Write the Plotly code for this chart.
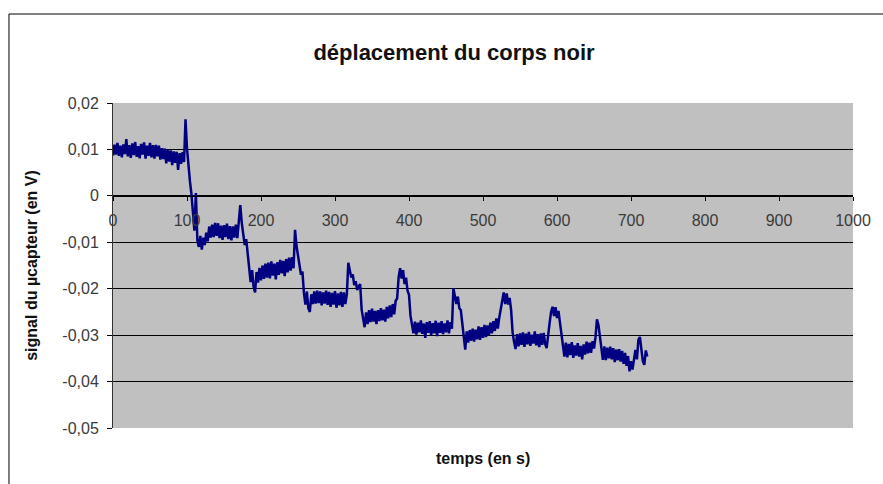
import plotly.graph_objects as go

# Black-body displacement run: sensor output (V) sampled every 2 s, one list per stage
SAMPLE_PERIOD_S = 2

stage_start = [0.0087, 0.0110, 0.0089, 0.0114, 0.0086, 0.0108, 0.0083, 0.0111, 0.0090, 0.0122,
               0.0085, 0.0109, 0.0082, 0.0113, 0.0088, 0.0116, 0.0084, 0.0107, 0.0081, 0.0112,
               0.0089, 0.0115, 0.0080, 0.0108, 0.0086, 0.0114, 0.0083, 0.0109, 0.0080, 0.0110,
               0.0085, 0.0108, 0.0078, 0.0103, 0.0079, 0.0102, 0.0070, 0.0099, 0.0074, 0.0098,
               0.0066, 0.0096, 0.0071, 0.0095, 0.0056, 0.0092, 0.0069, 0.0094, 0.0073]
stage_1 = [0.0165, 0.0102, 0.0058, 0.0031, 0.0004, -0.0028, -0.0075, 0.0006, -0.0096, -0.0110,
           -0.0086, -0.0116, -0.0090, -0.0106, -0.0079, -0.0098, -0.0066, -0.0090, -0.0062, -0.0089,
           -0.0058, -0.0086, -0.0059, -0.0091, -0.0064, -0.0095, -0.0063, -0.0089, -0.0060, -0.0093,
           -0.0065, -0.0096, -0.0066, -0.0090, -0.0062, -0.0091, -0.0054, -0.0020, -0.0058, -0.0084,
           -0.0106, -0.0093, -0.0128]
stage_2 = [-0.0160, -0.0186, -0.0160, -0.0196, -0.0208, -0.0164, -0.0187, -0.0155, -0.0182, -0.0150,
           -0.0179, -0.0146, -0.0176, -0.0144, -0.0178, -0.0141, -0.0172, -0.0146, -0.0180, -0.0143,
           -0.0170, -0.0138, -0.0167, -0.0140, -0.0173, -0.0136, -0.0165, -0.0133, -0.0161, -0.0132,
           -0.0156, -0.0073, -0.0108, -0.0125, -0.0149, -0.0170, -0.0163]
stage_3 = [-0.0209, -0.0234, -0.0206, -0.0242, -0.0250, -0.0212, -0.0233, -0.0206, -0.0232, -0.0204,
           -0.0231, -0.0206, -0.0236, -0.0208, -0.0232, -0.0204, -0.0235, -0.0207, -0.0239, -0.0209,
           -0.0234, -0.0205, -0.0241, -0.0210, -0.0236, -0.0207, -0.0239, -0.0208, -0.0233, -0.0212,
           -0.0144, -0.0158, -0.0176, -0.0169, -0.0192, -0.0184, -0.0203, -0.0195, -0.0190, -0.0245]
stage_4 = [-0.0268, -0.0283, -0.0251, -0.0276, -0.0246, -0.0272, -0.0243, -0.0271, -0.0248, -0.0276,
           -0.0246, -0.0270, -0.0242, -0.0268, -0.0245, -0.0271, -0.0239, -0.0264, -0.0236, -0.0261,
           -0.0233, -0.0255, -0.0226, -0.0221,
           -0.0175, -0.0156, -0.0178, -0.0160, -0.0190, -0.0176, -0.0204, -0.0213, -0.0258]
stage_5 = [-0.0274, -0.0296, -0.0271, -0.0299, -0.0273, -0.0294, -0.0268, -0.0297, -0.0275, -0.0306,
           -0.0272, -0.0295, -0.0270, -0.0300, -0.0274, -0.0296, -0.0269, -0.0302, -0.0273, -0.0295,
           -0.0270, -0.0298, -0.0275, -0.0294, -0.0268, -0.0296, -0.0272, -0.0286,
           -0.0199, -0.0218, -0.0233, -0.0217, -0.0242, -0.0246, -0.0275]
stage_6 = [-0.0306, -0.0331, -0.0292, -0.0316, -0.0289, -0.0312, -0.0286, -0.0314, -0.0288, -0.0309,
           -0.0281, -0.0310, -0.0283, -0.0306, -0.0278, -0.0304, -0.0279, -0.0300, -0.0273, -0.0296,
           -0.0270, -0.0291, -0.0264, -0.0286, -0.0262, -0.0246,
           -0.0224, -0.0208, -0.0233, -0.0210, -0.0234, -0.0220, -0.0246, -0.0294]
stage_7 = [-0.0315, -0.0330, -0.0298, -0.0324, -0.0296, -0.0321, -0.0294, -0.0325, -0.0297, -0.0320,
           -0.0293, -0.0323, -0.0299, -0.0318, -0.0292, -0.0322, -0.0298, -0.0326, -0.0296, -0.0321,
           -0.0295, -0.0319, -0.0328, -0.0294,
           -0.0274, -0.0250, -0.0239, -0.0259, -0.0240, -0.0263, -0.0248, -0.0273, -0.0298]
stage_8 = [-0.0320, -0.0346, -0.0316, -0.0348, -0.0319, -0.0343, -0.0315, -0.0349, -0.0322, -0.0344,
           -0.0317, -0.0346, -0.0323, -0.0352, -0.0320, -0.0342, -0.0314, -0.0339, -0.0316, -0.0338,
           -0.0313, -0.0329, -0.0305,
           -0.0266, -0.0278, -0.0309, -0.0328, -0.0353, -0.0324, -0.0354, -0.0327, -0.0350, -0.0325,
           -0.0352, -0.0328, -0.0358, -0.0331, -0.0354, -0.0330, -0.0357, -0.0334, -0.0362, -0.0338,
           -0.0366, -0.0345, -0.0378, -0.0356, -0.0374, -0.0346, -0.0332, -0.0352, -0.0310, -0.0304,
           -0.0334, -0.0356, -0.0364, -0.0333, -0.0346]

signal_v = (stage_start + stage_1 + stage_2 + stage_3 + stage_4
            + stage_5 + stage_6 + stage_7 + stage_8)
time_s = [i * SAMPLE_PERIOD_S for i in range(len(signal_v))]

x_ticks = [0, 100, 200, 300, 400, 500, 600, 700, 800, 900, 1000]
y_ticks = [0.02, 0.01, 0, -0.01, -0.02, -0.03, -0.04, -0.05]
y_tick_labels = ["0,02", "0,01", "0", "-0,01", "-0,02", "-0,03", "-0,04", "-0,05"]

X_RANGE = [0, 1000]
Y_RANGE = [-0.05, 0.02]

FONT = "Liberation Sans, Arial, sans-serif"
TICK_FONT = dict(family=FONT, size=16, color="#3a3a3a")

ML, MR, MT, MB = 113, 23, 103, 56
PLOT_W = 883 - ML - MR
PLOT_H = 484 - MT - MB

fig = go.Figure(
    go.Scatter(
        x=time_s,
        y=signal_v,
        mode="lines",
        line=dict(color="#000080", width=2.5),
        hoverinfo="skip",
    )
)

# horizontal axis drawn across the plot at y = 0
zero_pos = (0 - Y_RANGE[0]) / (Y_RANGE[1] - Y_RANGE[0])

fig.update_layout(
    width=883,
    height=484,
    margin=dict(l=ML, r=MR, t=MT, b=MB),
    paper_bgcolor="white",
    plot_bgcolor="#c0c0c0",
    showlegend=False,
    font=dict(family=FONT, color="#222222"),
    title=dict(
        text="<b>déplacement du corps noir</b>",
        font=dict(family=FONT, size=22, color="#111111"),
        x=454 / 883,
        xref="container",
        xanchor="center",
        y=1 - 52 / 484,
        yref="container",
        yanchor="middle",
    ),
    xaxis=dict(
        range=X_RANGE,
        tickvals=x_ticks,
        ticktext=[str(v) for v in x_ticks],
        showgrid=False,
        zeroline=False,
        showline=True,
        linecolor="black",
        linewidth=1,
        ticks="outside",
        ticklen=4,
        tickcolor="black",
        tickfont=TICK_FONT,
        ticklabelstandoff=6,
        ticklabeloverflow="allow",
        anchor="free",
        position=zero_pos,
        fixedrange=True,
    ),
    yaxis=dict(
        range=Y_RANGE,
        tickvals=y_ticks,
        ticktext=y_tick_labels,
        showgrid=True,
        gridcolor="black",
        gridwidth=1,
        zeroline=False,
        showline=True,
        linecolor="#333333",
        linewidth=1,
        ticks="outside",
        ticklen=5,
        tickcolor="black",
        tickfont=TICK_FONT,
        ticklabelstandoff=5,
        title=dict(
            text="<b>signal du µcapteur (en V)</b>",
            font=dict(family=FONT, size=16, color="#111111"),
            standoff=20,
        ),
        fixedrange=True,
    ),
)

# x-axis title below the plot area
fig.add_annotation(
    text="<b>temps (en s)</b>",
    xref="paper", yref="paper",
    x=0.5, y=0,
    yshift=-30,
    xanchor="center", yanchor="middle",
    showarrow=False,
    font=dict(family=FONT, size=16, color="#111111"),
)

# chart-area frame (left and top edges visible, the rest runs off the page)
fig.add_shape(
    type="rect",
    xref="paper", yref="paper",
    x0=(8 - ML) / PLOT_W, x1=(895 - ML) / PLOT_W,
    y0=-0.25, y1=(484 - MB - 14) / PLOT_H,
    line=dict(color="black", width=1),
    fillcolor="rgba(0,0,0,0)",
    layer="below",
)

fig.write_html("out.html")
